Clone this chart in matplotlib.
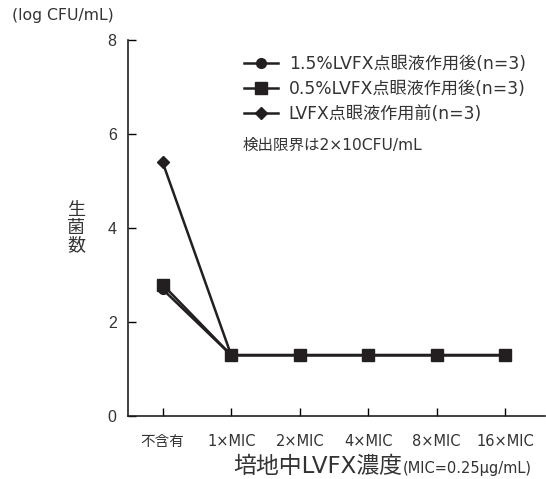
import numpy as np
import matplotlib.pyplot as plt
from matplotlib.lines import Line2D

plt.rcParams['font.family'] = ['DejaVu Sans', 'Noto Sans CJK JP']

categories = ['不含有', '1×MIC', '2×MIC', '4×MIC', '8×MIC', '16×MIC']
after_15 = [2.7, 1.3, 1.3, 1.3, 1.3, 1.3]
after_05 = [2.8, 1.3, 1.3, 1.3, 1.3, 1.3]
before = [5.4, 1.3, 1.3, 1.3, 1.3, 1.3]
series_labels = ['1.5%LVFX点眼液作用後(n=3)', '0.5%LVFX点眼液作用後(n=3)', 'LVFX点眼液作用前(n=3)']
yticks = [0, 2, 4, 6, 8]

ink = '#231f20'
txt = '#333333'
jp = ['Noto Sans CJK JP', 'DejaVu Sans']
mix = ['DejaVu Sans', 'Noto Sans CJK JP']

fig = plt.figure(figsize=(5.46, 4.79), dpi=100)
ax = fig.add_axes([0.234, 0.131, 0.764, 0.785])

x = np.arange(len(categories))
ax.plot(x, before, color=ink, lw=1.8, marker='D', ms=6.5, zorder=3)
ax.plot(x, after_05, color=ink, lw=1.8, marker='s', ms=8, zorder=4)
ax.plot(x, after_15, color=ink, lw=1.8, marker='o', ms=7, zorder=5)

ax.set_xlim(-0.51, 5.58)
ax.set_ylim(0, 8)
ax.set_yticks(yticks)
ax.set_yticklabels([str(v) for v in yticks], family=['Liberation Sans'], fontsize=11.5,
                   color=txt)
ax.set_xticks(x)
ax.set_xticklabels(categories, fontsize=10.5, color=txt, family=mix)
ax.tick_params(axis='y', direction='in', length=6, width=1, pad=8)
ax.tick_params(axis='x', direction='in', length=6, width=1, pad=13)
for s in ['top', 'right']:
    ax.spines[s].set_visible(False)
for s in ['left', 'bottom']:
    ax.spines[s].set_linewidth(1.2)
    ax.spines[s].set_color(ink)

# legend
handles = [
    Line2D([], [], color=ink, lw=1.8, marker='o', ms=7),
    Line2D([], [], color=ink, lw=1.8, marker='s', ms=8),
    Line2D([], [], color=ink, lw=1.8, marker='D', ms=6.5),
]
leg = fig.legend(handles, series_labels, loc='upper left', bbox_to_anchor=(0.435, 0.9),
                 frameon=False, fontsize=12.3, handlelength=1.95, handletextpad=0.65,
                 labelspacing=0.42, borderaxespad=0)
for t in leg.get_texts():
    t.set_color(txt)
    t.set_family(mix)

fig.text(0.445, 0.697, '検出限界は2×10CFU/mL', fontsize=11.2, color=txt,
         family=mix, va='center')

# axis labels
fig.text(0.022, 0.968, '(log CFU/mL)', fontsize=11.3, color=txt, va='center')
fig.text(0.14, 0.525, '生\n菌\n数', fontsize=13, color=txt, ha='center', va='center',
         linespacing=0.95, family=jp)
fig.text(0.737, 0.013, '培地中LVFX濃度', fontsize=16.5, color=txt, ha='right',
         va='baseline', family=mix)
fig.text(0.737, 0.013, '(MIC=0.25μg/mL)', fontsize=10.5, color=txt, ha='left',
         va='baseline', family=['DejaVu Sans'])

fig.savefig('out.png', dpi=100)
